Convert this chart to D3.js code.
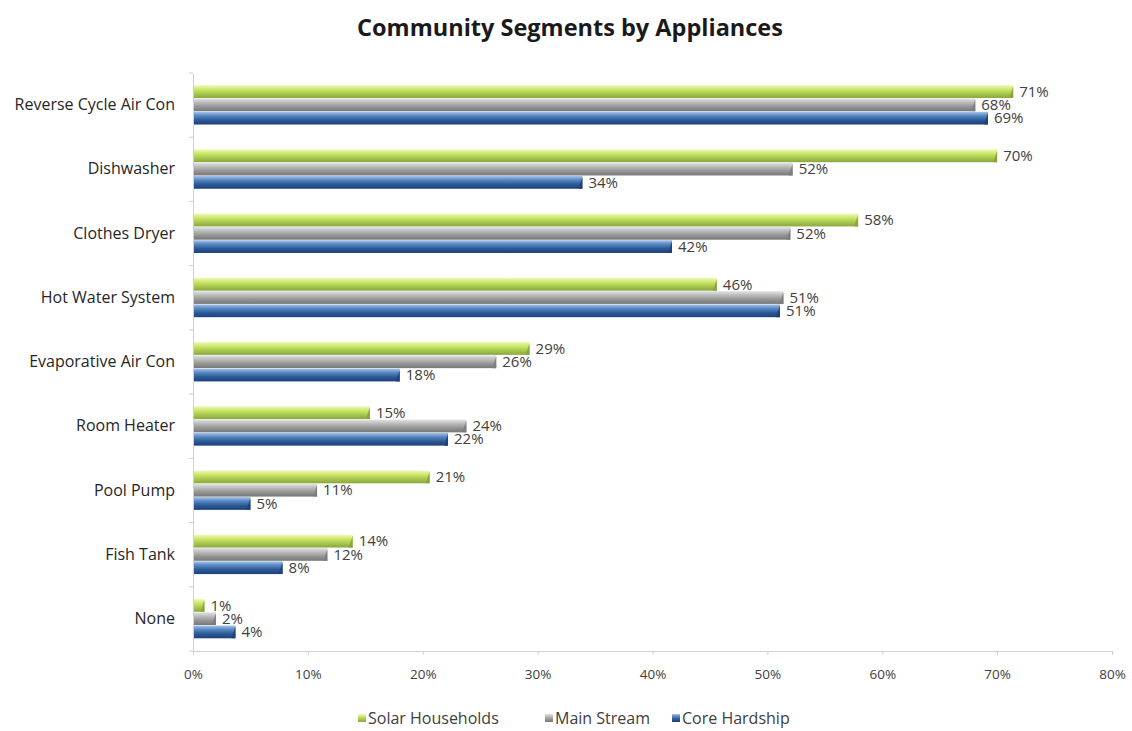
<!DOCTYPE html>
<html>
<head>
<meta charset="utf-8">
<script src="https://cdn.jsdelivr.net/npm/d3@7"></script>
<style>
  html, body { margin: 0; padding: 0; background: #fff; }
  svg { display: block; }
  text { font-family: "Open Sans", "Liberation Sans", sans-serif; }
</style>
</head>
<body>
<svg id="chart" width="1132" height="731"></svg>
<script>
// Appliance categories, top to bottom
const categories = [
  "Reverse Cycle Air Con", "Dishwasher", "Clothes Dryer", "Hot Water System",
  "Evaporative Air Con", "Room Heater", "Pool Pump", "Fish Tank", "None"
];
// Share of households owning each appliance (%)
const solarHouseholds = [71.4, 70.0, 57.9, 45.6, 29.3, 15.4, 20.6, 13.9, 1.0];
const mainStream      = [68.1, 52.2, 52.0, 51.4, 26.4, 23.8, 10.8, 11.7, 2.0];
const coreHardship    = [69.2, 33.9, 41.7, 51.1, 18.0, 22.2,  5.0,  7.8, 3.7];
const seriesNames = ["Solar Households", "Main Stream", "Core Hardship"];
const xTicks = [0, 10, 20, 30, 40, 50, 60, 70, 80];

const series = [
  { name: seriesNames[0], values: solarHouseholds, key: "green" },
  { name: seriesNames[1], values: mainStream, key: "gray" },
  { name: seriesNames[2], values: coreHardship, key: "blue" }
];

const svg = d3.select("#chart");
const plotTop = 73, plotBottom = 651, plotLeft = 193, plotRight = 1112;

const x = d3.scaleLinear().domain([0, 80]).range([plotLeft, plotRight]);
const y = d3.scaleBand().domain(categories).range([plotTop, plotBottom]).paddingInner(0.38).paddingOuter(0.19);
const ys = d3.scaleBand().domain(seriesNames).range([0, y.bandwidth()]).padding(0);

// Shaded fills giving each bar a bevelled look
const defs = svg.append("defs");
const palettes = {
  green: [["0%", "#eef9b8"], ["30%", "#cfe96c"], ["65%", "#a9c94f"], ["100%", "#8aa63e"]],
  gray:  [["0%", "#e4e4e4"], ["30%", "#bdbdbd"], ["65%", "#959595"], ["100%", "#777777"]],
  blue:  [["0%", "#a7c4e6"], ["30%", "#5b89c4"], ["65%", "#2c5a98"], ["100%", "#1d4078"]]
};
const endShade = { green: "#87a23a", gray: "#7a7a7a", blue: "#1f3f72" };
Object.entries(palettes).forEach(([k, stops]) => {
  const g = defs.append("linearGradient").attr("id", "grad-" + k)
    .attr("x1", 0).attr("y1", 0).attr("x2", 0).attr("y2", 1);
  stops.forEach(([o, c]) => g.append("stop").attr("offset", o).attr("stop-color", c));
});

// Title
svg.append("text")
  .attr("x", 570).attr("y", 36)
  .attr("text-anchor", "middle")
  .attr("font-size", 23.5).attr("font-weight", 700)
  .attr("fill", "#1a1a1a")
  .text("Community Segments by Appliances");

// Axes
const xAxis = d3.axisBottom(x).tickValues(xTicks).tickFormat(d => d + "%").tickSize(4).tickSizeOuter(0);
const gx = svg.append("g").attr("transform", `translate(0,${plotBottom})`).call(xAxis);
gx.select(".domain").attr("stroke", "#d0d0d0");
gx.selectAll(".tick line").attr("stroke", "#d0d0d0");
gx.selectAll(".tick text").attr("y", 18).attr("font-size", 13.5).attr("fill", "#404040")
  .style("font-family", '"Open Sans", sans-serif');

const yAxis = d3.axisLeft(y).tickSize(0).tickPadding(18);
const gy = svg.append("g").attr("transform", `translate(${plotLeft},0)`).call(yAxis);
gy.select(".domain").attr("stroke", "#d0d0d0");
gy.selectAll(".tick text").attr("font-size", 16).attr("fill", "#262626")
  .style("font-family", '"Open Sans", sans-serif');

// Small separators between categories on the vertical axis
const sep = d3.range(categories.length + 1).map(i => plotTop + i * (plotBottom - plotTop) / categories.length);
svg.append("g").selectAll("line").data(sep).join("line")
  .attr("x1", plotLeft - 4).attr("x2", plotLeft)
  .attr("y1", d => d).attr("y2", d => d)
  .attr("stroke", "#d0d0d0");

// Bars
const fmt = d => d3.format(".0f")(d) + "%";
series.forEach(s => {
  const g = svg.append("g");
  const rows = categories.map((c, i) => ({ c, v: s.values[i] }));
  const bh = ys.bandwidth();
  g.selectAll("rect").data(rows).join("rect")
    .attr("x", x(0) + 1)
    .attr("y", d => y(d.c) + ys(s.name))
    .attr("width", d => x(d.v) - x(0) - 1)
    .attr("height", bh - 0.5)
    .attr("fill", `url(#grad-${s.key})`);
  // bevelled end face
  g.selectAll("path").data(rows).join("path")
    .attr("d", d => {
      const x1 = x(d.v), y0 = y(d.c) + ys(s.name);
      return `M${x1 - 4},${y0 + bh - 0.5} L${x1},${y0 + bh - 0.5} L${x1},${y0 + 1} Z`;
    })
    .attr("fill", endShade[s.key]).attr("opacity", 0.85);
  g.selectAll("text").data(rows).join("text")
    .attr("x", d => x(d.v) + 6)
    .attr("y", d => y(d.c) + ys(s.name) + bh / 2 + 5)
    .attr("font-size", 15).attr("fill", "#404040")
    .text(d => fmt(d.v));
});

// Legend
const legendItems = [
  { name: seriesNames[0], key: "green", x: 358 },
  { name: seriesNames[1], key: "gray", x: 545 },
  { name: seriesNames[2], key: "blue", x: 672 }
];
const lg = svg.append("g");
legendItems.forEach(it => {
  lg.append("rect").attr("x", it.x).attr("y", 714).attr("width", 8).attr("height", 8)
    .attr("fill", `url(#grad-${it.key})`);
  lg.append("text").attr("x", it.x + 10).attr("y", 724)
    .attr("font-size", 16).attr("fill", "#404040").text(it.name);
});
</script>
</body>
</html>
